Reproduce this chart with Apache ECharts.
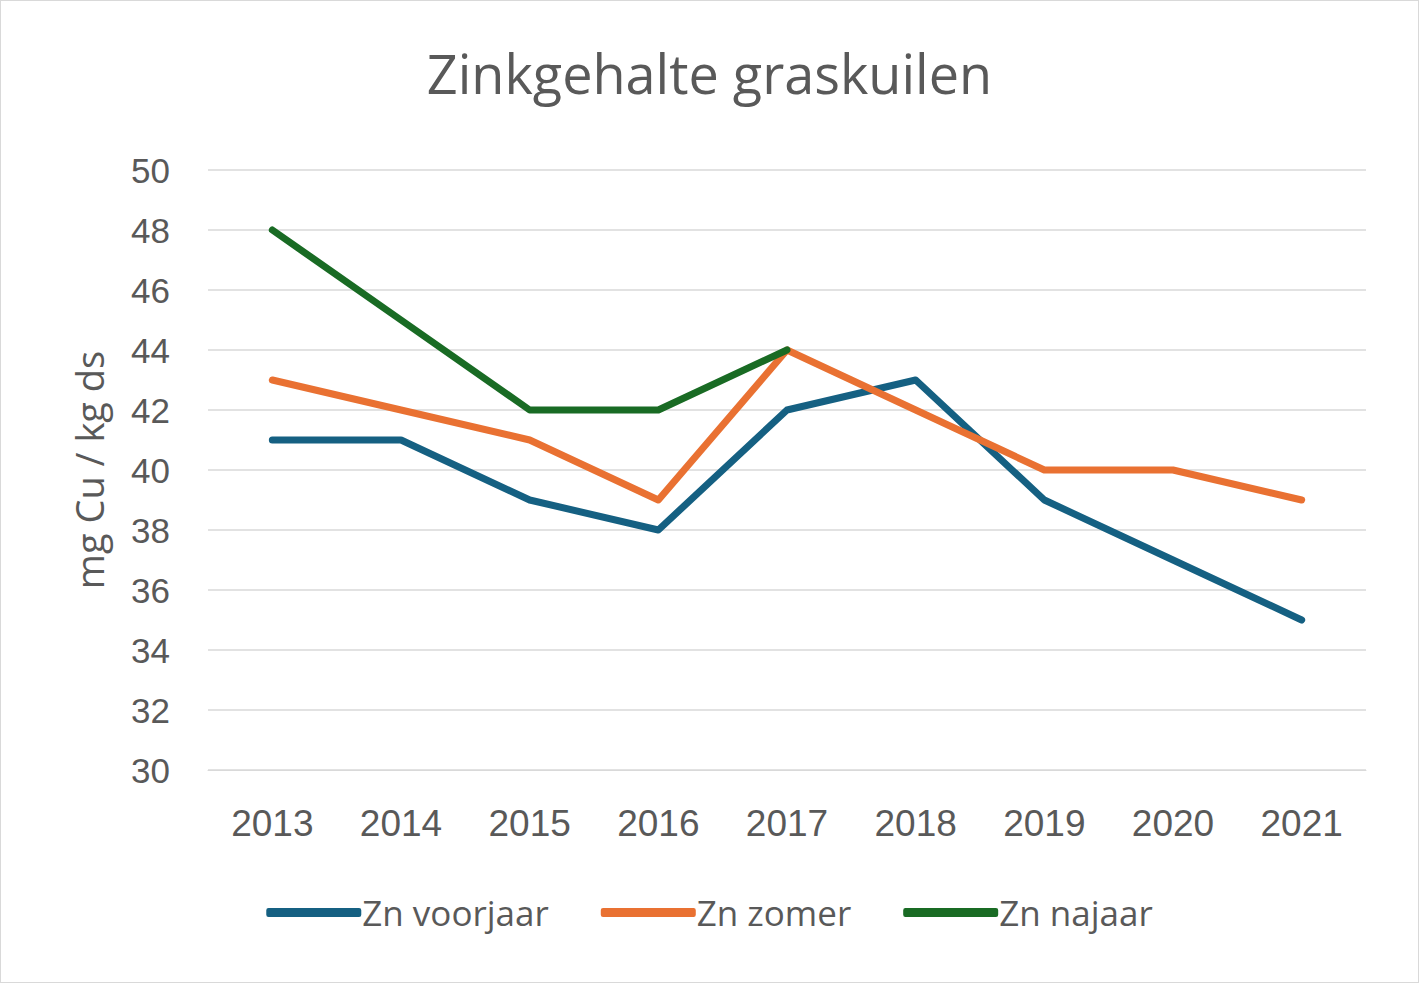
<!DOCTYPE html>
<html>
<head>
<meta charset="utf-8">
<script src="https://cdn.jsdelivr.net/npm/echarts@6/dist/echarts.min.js"></script>
<style>
  html, body { margin: 0; padding: 0; background: #fff; }
  #chart { width: 1417px; height: 981px; border: 1px solid #d9d9d9; }
</style>
</head>
<body>
<div id="chart"></div>
<script>
// chart data
var years = ['2013', '2014', '2015', '2016', '2017', '2018', '2019', '2020', '2021']
var znVoorjaar = [41, 41, 39, 38, 42, 43, 39, 37, 35]
var znZomer = [43, 42, 41, 39, 44, 42, 40, 40, 39]
var znNajaar = [48, 45, 42, 42, 44, null, null, null, null]

var chart = echarts.init(document.getElementById('chart'), null, {renderer: 'svg'})

var textColor = '#595959'
var font = 'Open Sans'
var numFont = 'Liberation Sans'

function lineSeries(name, data, color) {
    return {
        name: name,
        type: 'line',
        data: data,
        symbol: 'none',
        lineStyle: {width: 7, color: color, cap: 'round', join: 'round'},
        itemStyle: {color: color}
    }
}

var option = {
    animation: false,
    title: {
        text: 'Zinkgehalte graskuilen',
        left: 'center',
        top: 40,
        textStyle: {fontFamily: font, fontSize: 54, fontWeight: 'normal', color: textColor}
    },
    legend: {
        bottom: 47,
        left: 'center',
        icon: 'roundRect',
        itemWidth: 95,
        itemHeight: 9,
        itemGap: 52,
        textStyle: {fontFamily: font, fontSize: 35, color: textColor, padding: [0, 0, 0, -4]},
        data: ['Zn voorjaar', 'Zn zomer', 'Zn najaar']
    },
    grid: {left: 207, right: 52, top: 169, bottom: 212},
    xAxis: {
        type: 'category',
        data: years,
        boundaryGap: true,
        axisLine: {lineStyle: {color: '#d9d9d9', width: 1}},
        axisTick: {show: false},
        axisLabel: {fontFamily: numFont, fontSize: 37, color: textColor, margin: 35}
    },
    yAxis: {
        type: 'value',
        min: 30,
        max: 50,
        interval: 2,
        name: 'mg Cu / kg ds',
        nameLocation: 'middle',
        nameGap: 100,
        nameTextStyle: {fontFamily: font, fontSize: 38, color: textColor},
        axisLine: {show: false},
        axisTick: {show: false},
        splitLine: {lineStyle: {color: '#d9d9d9', width: 1.5}},
        axisLabel: {fontFamily: numFont, fontSize: 35, color: textColor, margin: 38}
    },
    series: [
        lineSeries('Zn voorjaar', znVoorjaar, '#156082'),
        lineSeries('Zn zomer', znZomer, '#e97132'),
        lineSeries('Zn najaar', znNajaar, '#196b24')
    ]
}

chart.setOption(option)
</script>
</body>
</html>
